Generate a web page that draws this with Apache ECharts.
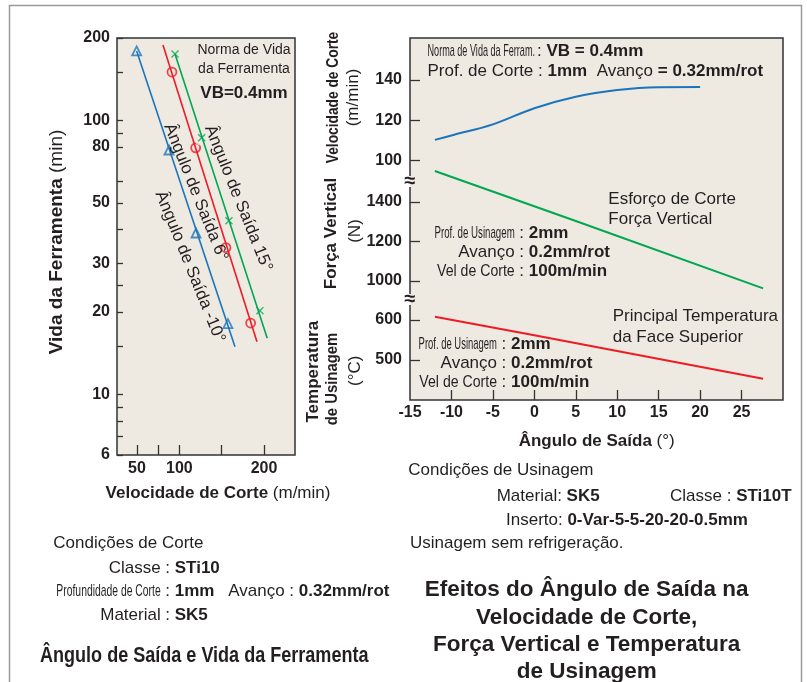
<!DOCTYPE html>
<html><head><meta charset="utf-8">
<script src="https://cdn.jsdelivr.net/npm/echarts@6/dist/echarts.min.js"></script>
<style>html,body{margin:0;padding:0;background:#fff}#c{width:807px;height:682px}</style>
</head><body><div id="c"></div>
<script>
// ---------- Data: left chart (tool life vs cutting speed) ----------
const lifeLabelTicks = [6, 10, 20, 30, 50, 80, 100, 200];
const lifeMinorTicks = [7, 8, 9, 15, 25, 40, 60, 90, 150];
const speedTickValues = [50, 75, 100, 150, 200];
const speedLabelValues = [50, 100, 200];
// rake -10 deg (triangles), 6 deg (circles), 15 deg (crosses): [speed m/min, life min]
const lifeRakeMinus10 = [[49.6, 179.4], [87.8, 78.0], [119.7, 38.8], [157.4, 18.1]];
const lifeRake6 = [[91.3, 150.2], [119.3, 79.4], [155.0, 34.3], [184.2, 18.2]];
const lifeRake15 = [[94.9, 174.9], [126.4, 86.5], [158.6, 43.0], [195.2, 20.2]];
const fitRakeMinus10 = [[49.6, 179.4], [165.7, 14.9]];
const fitRake6 = [[80.7, 188.6], [191.7, 15.55]];
const fitRake15 = [[94.9, 174.9], [203.8, 16.0]];

// ---------- Data: right chart (effects of rake angle) ----------
const rakeTickValues = [-10, -5, 0, 5, 10, 15, 20, 25];
const rakeLabelValues = [-15, -10, -5, 0, 5, 10, 15, 20, 25];
const speedAxisTicks = [100, 120, 140];
const forceAxisTicks = [1000, 1200, 1400];
const tempAxisTicks = [500, 600];
const cuttingSpeedByRake = [[-12, 110.3], [-10, 112.5], [-5, 118.0], [0, 126.0], [5, 131.7], [10, 135.0], [15, 136.4], [20, 136.5]];
const verticalForceByRake = [[-12, 1555], [5, 1303], [27.6, 963]];
const temperatureByRake = [[-12, 608], [0, 562], [27.6, 453]];

// ---------- Style ----------
const FF = '"Liberation Sans", Arial, Helvetica, sans-serif';
const INK = '#231f20';
const BG = '#eeeae1';
const BLUE = '#1c75bc', RED = '#ed1c24', GREEN = '#00a650';
const AX = '#333333';

function txt(x, y, text, o) {
  o = o || {};
  const fs = o.fs || 17;
  return {
    type: 'text', x: x, y: y, rotation: o.rot || 0, scaleX: o.sx || 1, silent: true, z: 100,
    style: {
      text: text, fontSize: fs, fontFamily: FF, fontWeight: o.bold ? 'bold' : 'normal', fill: INK,
      textAlign: o.align || 'left', textVerticalAlign: 'middle',
      rich: { b: { fontSize: o.bfs || fs, fontFamily: FF, fontWeight: 'bold', fill: INK } }
    }
  };
}
function row(colonX, y, label, value, sx) {
  return [txt(colonX - 7, y, label, { align: 'right', sx: sx || 1 }), txt(colonX - 2.4, y, ': {b|' + value + '}')];
}

const chart = echarts.init(document.getElementById('c'), null, { renderer: 'canvas' });

const tickLabel = { fontFamily: FF, fontWeight: 'bold', fontSize: 16, color: INK, formatter: function (v) { return String(v); } };
const noLine = { show: false, onZero: false };

const LG = { left: 117, top: 38, width: 178, height: 417 };
const RG = { left: 410, top: 38, width: 373, height: 362 };

function tick(vals, len) {
  return { show: true, inside: true, length: len, customValues: vals, lineStyle: { color: AX, width: 1.3 } };
}

const xAxes = [
  { gridIndex: 0, type: 'value', min: 26.4, max: 236.6, axisLine: noLine, splitLine: { show: false },
    axisTick: tick(speedTickValues, 10),
    axisLabel: Object.assign({ customValues: speedLabelValues, margin: 6 }, tickLabel) },
  { gridIndex: 1, type: 'value', min: -15, max: 30, axisLine: noLine, splitLine: { show: false },
    axisTick: tick(rakeTickValues, 10),
    axisLabel: Object.assign({ customValues: rakeLabelValues, margin: 5 }, tickLabel) },
  { gridIndex: 2, type: 'value', min: -15, max: 30, show: false, axisLine: noLine },
  { gridIndex: 3, type: 'value', min: -15, max: 30, show: false, axisLine: noLine }
];
const yAxes = [
  { gridIndex: 0, type: 'log', logBase: 10, min: 6, max: 200, axisLine: noLine, splitLine: { show: false },
    axisTick: tick(lifeLabelTicks.concat(lifeMinorTicks), 6),
    axisLabel: Object.assign({ customValues: lifeLabelTicks, margin: 7 }, tickLabel) },
  { gridIndex: 1, type: 'value', min: -18.6, max: 160.8, axisLine: noLine, splitLine: { show: false },
    axisTick: tick(speedAxisTicks, 10),
    axisLabel: Object.assign({ customValues: speedAxisTicks, margin: 8 }, tickLabel) },
  { gridIndex: 2, type: 'value', min: 400, max: 2226, axisLine: noLine, splitLine: { show: false },
    axisTick: tick(forceAxisTicks, 10),
    axisLabel: Object.assign({ customValues: forceAxisTicks, margin: 8 }, tickLabel) },
  { gridIndex: 3, type: 'value', min: 400, max: 1305, axisLine: noLine, splitLine: { show: false },
    axisTick: tick(tempAxisTicks, 10),
    axisLabel: Object.assign({ customValues: tempAxisTicks, margin: 8 }, tickLabel) }
];

const XPATH = 'path://M0,1.2L1.2,0L5,3.8L8.8,0L10,1.2L6.2,5L10,8.8L8.8,10L5,6.2L1.2,10L0,8.8L3.8,5Z';
function lifeSeries(fit, pts, color, symbol, size, hollow) {
  return [
    { type: 'line', xAxisIndex: 0, yAxisIndex: 0, data: fit, symbol: 'none', silent: true,
      lineStyle: { color: color, width: 1.6 } },
    { type: 'scatter', xAxisIndex: 0, yAxisIndex: 0, data: pts, symbol: 'circle', symbolSize: 16, silent: true,
      itemStyle: { color: BG } },
    { type: 'scatter', xAxisIndex: 0, yAxisIndex: 0, data: pts, symbol: symbol, symbolSize: size, silent: true,
      itemStyle: hollow ? { color: BG, borderColor: color, borderWidth: 1.8 } : { color: color } }
  ];
}

const series = [].concat(
  lifeSeries(fitRakeMinus10, lifeRakeMinus10, BLUE, 'triangle', 9, true),
  lifeSeries(fitRake6, lifeRake6, RED, 'circle', 9, true),
  lifeSeries(fitRake15, lifeRake15, GREEN, XPATH, 8, false),
  [
    { type: 'line', xAxisIndex: 1, yAxisIndex: 1, data: cuttingSpeedByRake, smooth: 0.35, symbol: 'none', silent: true,
      lineStyle: { color: BLUE, width: 2 } },
    { type: 'line', xAxisIndex: 2, yAxisIndex: 2, data: verticalForceByRake, symbol: 'none', silent: true,
      lineStyle: { color: GREEN, width: 2 } },
    { type: 'line', xAxisIndex: 3, yAxisIndex: 3, data: temperatureByRake, symbol: 'none', silent: true,
      lineStyle: { color: RED, width: 2 } }
  ]
);

const ROT = -68 * Math.PI / 180;
const graphics = [].concat(
  [
    { type: 'polyline', silent: true, z: 90, shape: { points: [[9.5, 682], [9.5, 5.5], [801.5, 5.5], [801.5, 682]] },
      style: { stroke: '#9a9a9a', lineWidth: 1.5, fill: null } },
    // axis break marks
    { type: 'rect', silent: true, z: 99, shape: { x: 403, y: 176, width: 7, height: 11 }, style: { fill: '#fff' } },
    { type: 'rect', silent: true, z: 99, shape: { x: 410, y: 176, width: 6, height: 11 }, style: { fill: BG } },
    { type: 'rect', silent: true, z: 99, shape: { x: 403, y: 294, width: 7, height: 11 }, style: { fill: '#fff' } },
    { type: 'rect', silent: true, z: 99, shape: { x: 410, y: 294, width: 6, height: 11 }, style: { fill: BG } },
    txt(410, 181.5, '≈', { align: 'center', fs: 20, bold: true }),
    txt(410, 299.5, '≈', { align: 'center', fs: 20, bold: true }),
    // left chart
    txt(56.7, 242, '{b|Vida da Ferramenta} (min)', { align: 'center', rot: Math.PI / 2, fs: 19 }),
    txt(218, 493, '{b|Velocidade de Corte} (m/min)', { align: 'center' }),
    txt(244, 50, 'Norma de Vida', { align: 'center', fs: 14 }),
    txt(244, 69.3, 'da Ferramenta', { align: 'center', fs: 14 }),
    txt(244, 93.3, 'VB=0.4mm', { align: 'center', bold: true }),
    txt(238.3, 198.3, 'Ângulo de Saída 15°', { align: 'center', rot: ROT }),
    txt(195.7, 192.3, 'Ângulo de Saída 6°', { align: 'center', rot: ROT }),
    txt(190, 266.7, 'Ângulo de Saída -10°', { align: 'center', rot: ROT }),
    // right chart axis titles
    txt(333.3, 97.5, 'Velocidade de Corte', { align: 'center', rot: Math.PI / 2, bold: true, fs: 16, sx: 0.86 }),
    txt(353, 97.5, '(m/min)', { align: 'center', rot: Math.PI / 2 }),
    txt(331.7, 233.5, 'Força Vertical', { align: 'center', rot: Math.PI / 2, bold: true }),
    txt(355, 231, '(N)', { align: 'center', rot: Math.PI / 2 }),
    txt(313.3, 371.7, 'Temperatura', { align: 'center', rot: Math.PI / 2, bold: true }),
    txt(332.3, 379, 'de Usinagem', { align: 'center', rot: Math.PI / 2, bold: true, fs: 16, sx: 0.93 }),
    txt(355, 370.8, '(°C)', { align: 'center', rot: Math.PI / 2 }),
    txt(596.7, 441.7, '{b|Ângulo de Saída} (°)', { align: 'center' }),
    // right chart annotations
    txt(427.5, 51.7, 'Norma de Vida da Ferram.', { sx: 0.535 }),
    txt(537, 51.7, ': {b|VB = 0.4mm}'),
    txt(427.5, 71.7, 'Prof. de Corte : {b|1mm}  Avanço {b|= 0.32mm/rot}'),
    txt(608.3, 199, 'Esforço de Corte'),
    txt(608.3, 219, 'Força Vertical'),
    txt(612.7, 316.7, 'Principal Temperatura'),
    txt(612.7, 337.3, 'da Face Superior'),
    // bottom left
    txt(53.3, 543, 'Condições de Corte'),
    txt(40, 656, 'Ângulo de Saída e Vida da Ferramenta', { bold: true, fs: 22, sx: 0.82 }),
    // bottom right
    txt(408.3, 470, 'Condições de Usinagem'),
    txt(496.7, 496.7, 'Material: {b|SK5}'),
    txt(670, 496.7, 'Classe : {b|STi10T}'),
    txt(506, 520, 'Inserto: {b|0-Var-5-5-20-20-0.5mm}'),
    txt(410, 543, 'Usinagem sem refrigeração.'),
    txt(586.7, 590, 'Efeitos do Ângulo de Saída na', { align: 'center', bold: true, fs: 22.5 }),
    txt(586.7, 617.7, 'Velocidade de Corte,', { align: 'center', bold: true, fs: 22.5 }),
    txt(586.7, 645, 'Força Vertical e Temperatura', { align: 'center', bold: true, fs: 22.5 }),
    txt(586.7, 671.7, 'de Usinagem', { align: 'center', bold: true, fs: 22.5 })
  ],
  row(521.7, 233, 'Prof. de Usinagem', '2mm', 0.57),
  row(521.7, 252, 'Avanço', '0.2mm/rot'),
  row(521.7, 271, 'Vel de Corte', '100m/min', 0.83),
  row(504, 344, 'Prof. de Usinagem', '2mm', 0.557),
  row(504, 363, 'Avanço', '0.2mm/rot'),
  row(504, 382, 'Vel de Corte', '100m/min', 0.83),
  row(167.7, 568, 'Classe', 'STi10'),
  row(167.7, 591.7, 'Profundidade de Corte', '1mm', 0.61),
  row(291.7, 591.7, 'Avanço', '0.32mm/rot'),
  row(167.7, 615.7, 'Material', 'SK5')
);

chart.setOption({
  animation: false,
  backgroundColor: '#ffffff',
  textStyle: { fontFamily: FF },
  grid: [
    Object.assign({ show: true, backgroundColor: BG, borderColor: AX, borderWidth: 1.5, containLabel: false }, LG),
    Object.assign({ show: true, backgroundColor: BG, borderColor: AX, borderWidth: 1.5, containLabel: false }, RG),
    Object.assign({ show: false, containLabel: false }, RG),
    Object.assign({ show: false, containLabel: false }, RG)
  ],
  xAxis: xAxes,
  yAxis: yAxes,
  series: series,
  graphic: graphics
});
</script></body></html>
